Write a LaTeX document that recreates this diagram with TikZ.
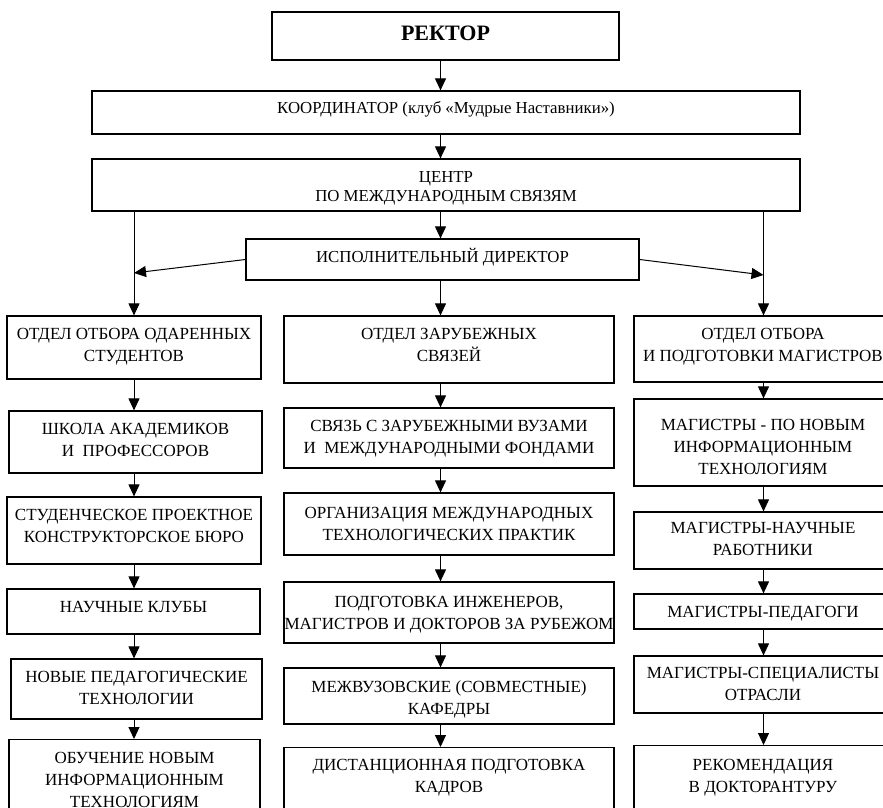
\documentclass[tikz,border=0pt]{standalone}
\usepackage{fontspec}
\setmainfont{Liberation Serif}
\usetikzlibrary{arrows.meta}
\begin{document}
\begin{tikzpicture}[x=1pt,y=-1pt,
  box/.style={draw, line width=1.2pt, rectangle, inner sep=0pt},
  txt/.style={inner sep=0pt, align=center, font=\fontsize{17}{22}\selectfont},
  toptxt/.style={txt, font=\fontsize{16.8}{19.5}\selectfont},
  arr/.style={line width=1pt, -{Triangle[length=12pt,width=11pt]}}
]
\useasboundingbox (0,0) rectangle (883,808);
\clip (0,0) rectangle (883,808);

% column axes for the vertical connectors
\coordinate (xm) at (440.5,0);
\coordinate (xl) at (134,0);
\coordinate (xr) at (763.5,0);

% management levels
\node[box, minimum width=347pt, minimum height=48pt] (rector) at (445.5,36) {};
\node[txt, font=\bfseries\fontsize{22}{26}\selectfont] (rectort) at (445.5,33) {РЕКТОР};
\node[box, minimum width=708pt, minimum height=43pt] (coord) at (446,112.5) {};
\node[toptxt] (coordt) at (446,109.5) {КООРДИНАТОР (клуб «Мудрые Наставники»)};
\node[box, minimum width=708pt, minimum height=52pt] (centre) at (446,185) {};
\node[toptxt] (centret) at (446,188.5) {ЦЕНТР\\ПО МЕЖДУНАРОДНЫМ СВЯЗЯМ};
\node[box, minimum width=393pt, minimum height=41pt] (exec) at (442.5,259.5) {};
\node[toptxt] (exect) at (442.5,257.5) {ИСПОЛНИТЕЛЬНЫЙ ДИРЕКТОР};

% left column
\node[box, minimum width=254pt, minimum height=63pt] (l1) at (134,347.5) {};
\node[txt] (l1t) at (134,346.5) {ОТДЕЛ ОТБОРА ОДАРЕННЫХ\\СТУДЕНТОВ};
\node[box, minimum width=253pt, minimum height=62pt] (l2) at (135.5,442) {};
\node[txt] (l2t) at (135.5,440) {ШКОЛА АКАДЕМИКОВ\\И\ \ ПРОФЕССОРОВ};
\node[box, minimum width=254pt, minimum height=67pt] (l3) at (134,530.5) {};
\node[txt] (l3t) at (134,525.5) {СТУДЕНЧЕСКОЕ ПРОЕКТНОЕ\\КОНСТРУКТОРСКОЕ БЮРО};
\node[box, minimum width=253pt, minimum height=45pt] (l4) at (133.5,611.5) {};
\node[txt] (l4t) at (133.5,606.5) {НАУЧНЫЕ КЛУБЫ};
\node[box, minimum width=251pt, minimum height=60pt] (l5) at (136.5,689) {};
\node[txt] (l5t) at (136.5,688) {НОВЫЕ ПЕДАГОГИЧЕСКИЕ\\ТЕХНОЛОГИИ};
\node[box, anchor=north, minimum width=251pt, minimum height=120pt] (l6) at (134.5,739) {};
\node[txt, anchor=north] (l6t) at (134.5,752) {ОБУЧЕНИЕ НОВЫМ\\ИНФОРМАЦИОННЫМ\\ТЕХНОЛОГИЯМ};

% middle column
\node[box, minimum width=330pt, minimum height=67pt] (m1) at (449,349.5) {};
\node[txt] (m1t) at (449,344.5) {ОТДЕЛ ЗАРУБЕЖНЫХ\\СВЯЗЕЙ};
\node[box, minimum width=330pt, minimum height=60pt] (m2) at (449,438) {};
\node[txt] (m2t) at (449,439) {СВЯЗЬ С ЗАРУБЕЖНЫМИ ВУЗАМИ\\И\ \ МЕЖДУНАРОДНЫМИ ФОНДАМИ};
\node[box, minimum width=330pt, minimum height=62pt] (m3) at (449,524) {};
\node[txt] (m3t) at (449,524) {ОРГАНИЗАЦИЯ МЕЖДУНАРОДНЫХ\\ТЕХНОЛОГИЧЕСКИХ ПРАКТИК};
\node[box, minimum width=330pt, minimum height=61pt] (m4) at (449,612.5) {};
\node[txt] (m4t) at (449,614.5) {ПОДГОТОВКА ИНЖЕНЕРОВ,\\МАГИСТРОВ И ДОКТОРОВ ЗА РУБЕЖОМ};
\node[box, minimum width=330pt, minimum height=56pt] (m5) at (449,696) {};
\node[txt] (m5t) at (449,699) {МЕЖВУЗОВСКИЕ (СОВМЕСТНЫЕ)\\КАФЕДРЫ};
\node[box, anchor=north, minimum width=330pt, minimum height=120pt] (m6) at (449,747) {};
\node[txt, anchor=north] (m6t) at (449,759) {ДИСТАНЦИОННАЯ ПОДГОТОВКА\\КАДРОВ};

% right column
\node[box, minimum width=258pt, minimum height=66pt] (r1) at (763,349) {};
\node[txt] (r1t) at (763,347) {ОТДЕЛ ОТБОРА\\И ПОДГОТОВКИ МАГИСТРОВ};
\node[box, minimum width=258pt, minimum height=87pt] (r2) at (763,442.5) {};
\node[txt] (r2t) at (763,446.5) {МАГИСТРЫ - ПО НОВЫМ\\ИНФОРМАЦИОННЫМ\\ТЕХНОЛОГИЯМ};
\node[box, minimum width=258pt, minimum height=57pt] (r3) at (763,540.5) {};
\node[txt] (r3t) at (763,538.5) {МАГИСТРЫ-НАУЧНЫЕ\\РАБОТНИКИ};
\node[box, minimum width=258pt, minimum height=35pt] (r4) at (763,611.5) {};
\node[txt] (r4t) at (763,613.5) {МАГИСТРЫ-ПЕДАГОГИ};
\node[box, minimum width=258pt, minimum height=57pt] (r5) at (763,684.5) {};
\node[txt] (r5t) at (763,683.5) {МАГИСТРЫ-СПЕЦИАЛИСТЫ\\ОТРАСЛИ};
\node[box, anchor=north, minimum width=258pt, minimum height=120pt] (r6) at (763,745) {};
\node[txt, anchor=north] (r6t) at (763,759) {РЕКОМЕНДАЦИЯ\\В ДОКТОРАНТУРУ};

% points where the director's arrows meet the side lines
\coordinate (cl) at (134,273);
\coordinate (cr) at (763.5,275);

% connectors of the management chain
\draw[arr] (rector.south -| xm) -- (coord.north -| xm);
\draw[arr] (coord.south -| xm) -- (centre.north -| xm);
\draw[arr] (centre.south -| xm) -- (exec.north -| xm);
\draw[arr] (exec.south -| xm) -- (m1.north -| xm);
\draw[arr] (centre.south -| xl) -- (l1.north -| xl);
\draw[arr] (centre.south -| xr) -- (r1.north -| xr);
\draw[arr] (exec.west) -- (cl);
\draw[arr] (exec.east) -- (cr);

% connectors inside the columns
\foreach \a/\b in {l1/l2,l2/l3,l3/l4,l4/l5,l5/l6}
  \draw[arr] (\a.south -| xl) -- (\b.north -| xl);
\foreach \a/\b in {m1/m2,m2/m3,m3/m4,m4/m5,m5/m6}
  \draw[arr] (\a.south -| xm) -- (\b.north -| xm);
\foreach \a/\b in {r1/r2,r2/r3,r3/r4,r4/r5,r5/r6}
  \draw[arr] (\a.south -| xr) -- (\b.north -| xr);
\end{tikzpicture}
\end{document}
